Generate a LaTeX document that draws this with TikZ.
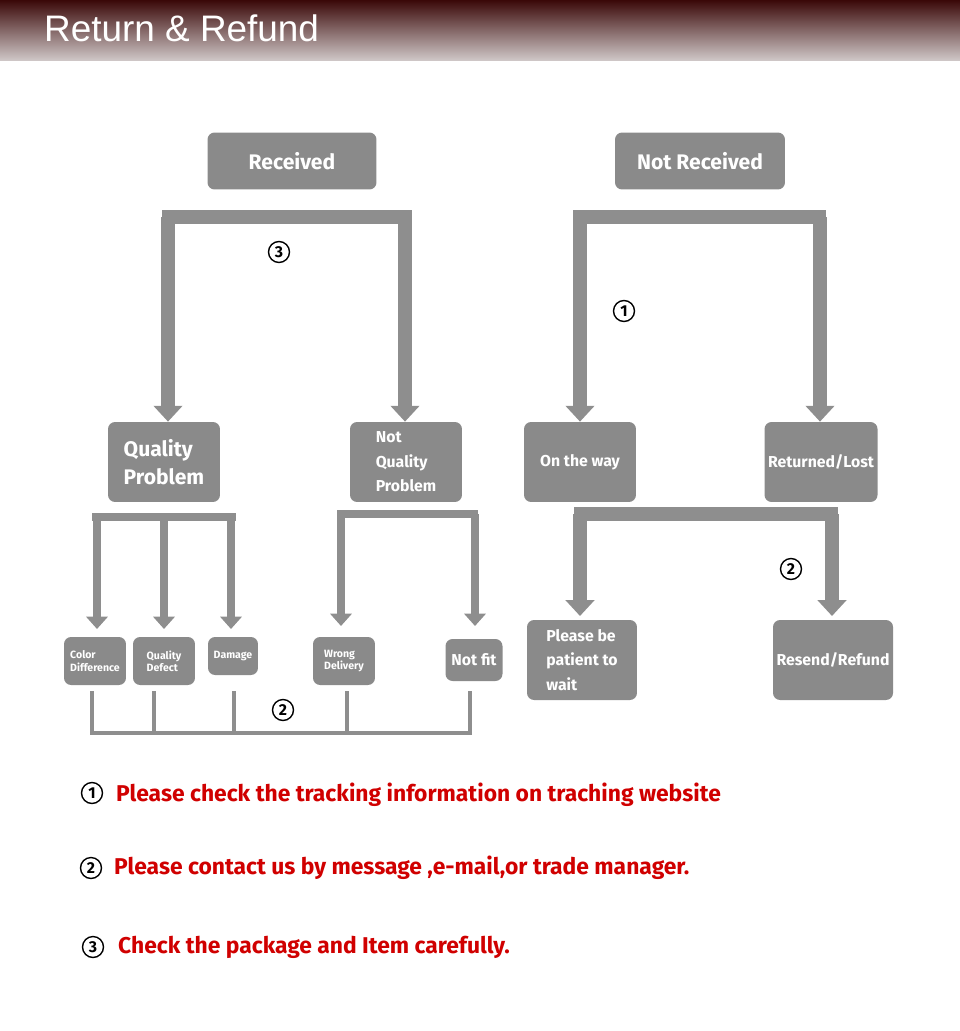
\documentclass[tikz,border=0pt]{standalone}
\usepackage{fontspec}
\setmainfont{Fira Sans}
\newfontfamily\headfont{Liberation Sans}
\usetikzlibrary{calc,positioning,arrows.meta}
\definecolor{boxgray}{HTML}{8A8A8A}
\definecolor{linegray}{HTML}{8E8E8E}
\definecolor{notered}{HTML}{D00000}
\definecolor{headtop}{HTML}{3A0808}
\definecolor{headbot}{HTML}{CEC6C6}
\tikzset{
  box/.style={draw=none,fill=boxgray,rounded corners=4pt,text=white,font=\bfseries\large,align=left,inner sep=2pt},
  smallbox/.style={box,font=\bfseries\fontsize{6}{7}\selectfont},
  bar/.style={linegray,line width=7.5pt},
  thinbar/.style={linegray,line width=2.6pt},
  arr/.style={bar,-{Triangle[width=16pt,length=9pt]}},
  arrs/.style={linegray,line width=5pt,-{Triangle[width=12pt,length=7pt]}},
  stepnum/.style={circle,draw,thick,inner sep=1pt,minimum size=0.42cm,font=\bfseries\small},
  note/.style={anchor=west,text=notered,font=\bfseries\fontsize{13}{15}\selectfont}
}
\begin{document}
\begin{tikzpicture}[x=0.02cm,y=-0.02cm]
  \useasboundingbox (0,0) rectangle (960,1031);
  \shade[top color=headtop,bottom color=headbot] (0,0) rectangle (960,60);
  \node [anchor=west,text=white,font=\headfont\fontsize{21}{24}\selectfont] (title) at (38,28) {Return \& Refund};

  % top level
  \node [box,minimum width=3.38cm,minimum height=1.14cm,align=center] (recv) at (292,161) {Received};
  \node [box,minimum width=3.4cm,minimum height=1.14cm,align=center] (notrecv) at (700,161) {Not Received};

  % second level
  \node [box,minimum width=2.24cm,minimum height=1.6cm] (qp) at (164,462) {Quality\\[2pt]Problem};
  \node [box,minimum width=2.24cm,minimum height=1.6cm,font=\bfseries\small] (nqp) at (406,462) {Not\\[3pt]Quality\\[3pt]Problem};
  \node [box,minimum width=2.24cm,minimum height=1.6cm,font=\bfseries\small] (way) at (580,462) {On the way};
  \node [box,minimum width=2.24cm,minimum height=1.6cm,font=\bfseries\small] (lost) at (821,462) {Returned/Lost};

  % third level
  \node [smallbox,minimum width=1.24cm,minimum height=0.96cm] (color) at (95,661) {Color\\Difference};
  \node [smallbox,minimum width=1.24cm,minimum height=0.96cm] (defect) at (164,661) {Quality\\Defect};
  \node [smallbox,minimum width=1.0cm,minimum height=0.76cm] (damage) at (233,656) {Damage};
  \node [smallbox,minimum width=1.24cm,minimum height=0.96cm] (wrong) at (344,661) {Wrong\\Delivery};
  \node [box,minimum width=1.14cm,minimum height=0.84cm,font=\bfseries\small] (notfit) at (474,660) {Not fit};
  \node [box,minimum width=2.2cm,minimum height=1.6cm,font=\bfseries\small] (wait) at (582,660) {Please be\\[3pt]patient to\\[3pt]wait};
  \node [box,minimum width=2.2cm,minimum height=1.6cm,font=\bfseries\small] (resend) at (833,660) {Resend/Refund};

  % brackets
  \coordinate (l1) at (162,217);
  \coordinate (r1) at (412,217);
  \draw [bar] (l1) -- (r1);
  \draw [arr] (168,217) -- (qp.north -| 168,0);
  \draw [arr] (405,217) -- (nqp.north -| 405,0);
  \coordinate (l2) at (573,217);
  \coordinate (r2) at (826,217);
  \draw [bar] (l2) -- (r2);
  \draw [arr] (580,217) -- (way.north);
  \draw [arr] (820,217) -- (lost.north -| 820,0);

  \draw [linegray,line width=5pt] (92,517) -- (236,517);
  \foreach \n/\x in {color/97,defect/164,damage/231}
    \draw [arrs] (\x,517) -- (\x,629);
  \draw [linegray,line width=5pt] (337,514) -- (478,514);
  \foreach \n/\x in {wrong/341,notfit/475}
    \draw [arrs] (\x,514) -- (\x,626);
  \draw [bar] (574,514) -- (838,514);
  \draw [arr] (580,514) -- (580,616);
  \draw [arr] (832,514) -- (832,616);

  % bottom join
  \coordinate (bl) at (90,733);
  \coordinate (br) at (472,733);
  \draw [thinbar] (bl) -- (br);
  \foreach \n/\x in {color/92,defect/154,damage/234,wrong/347,notfit/470}
    \draw [thinbar] (\x,691) -- (\x,733);

  % steps
  \node [stepnum] (s3) at (279,252) {3};
  \node [stepnum] (s1) at (624,311) {1};
  \node [stepnum] (s2r) at (791,569) {2};
  \node [stepnum] (s2l) at (283,710) {2};

  % notes
  \node [stepnum] (n1) at (92,793) {1};
  \node [note] (t1) at (110,795) {Please check the tracking information on traching website};
  \node [stepnum] (n2) at (91,868) {2};
  \node [note] (t2) at (108,868) {Please contact us by message ,e-mail,or trade manager.};
  \node [stepnum] (n3) at (93,947) {3};
  \node [note] (t3) at (112,947) {Check the package and Item carefully.};
\end{tikzpicture}
\end{document}
